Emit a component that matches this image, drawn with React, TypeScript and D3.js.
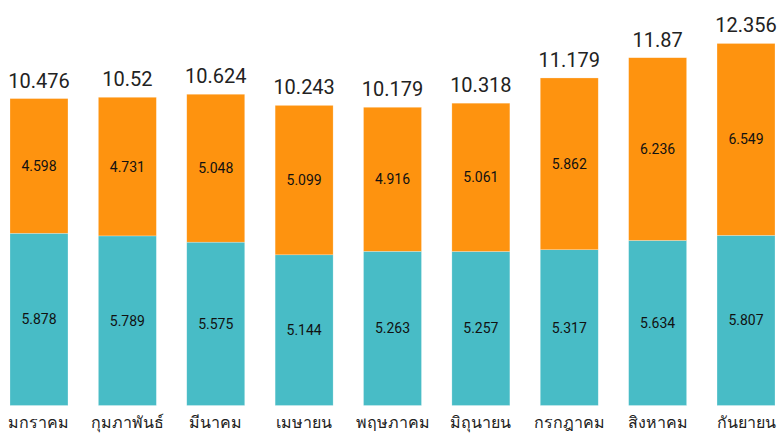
import React from "react";
import * as d3 from "d3";

const categories = ["มกราคม", "กุมภาพันธ์", "มีนาคม", "เมษายน", "พฤษภาคม", "มิถุนายน", "กรกฎาคม", "สิงหาคม", "กันยายน"];
const seriesTeal = [5.878, 5.789, 5.575, 5.144, 5.263, 5.257, 5.317, 5.634, 5.807];
const seriesOrange = [4.598, 4.731, 5.048, 5.099, 4.916, 5.061, 5.862, 6.236, 6.549];
const totals = [10.476, 10.52, 10.624, 10.243, 10.179, 10.318, 11.179, 11.87, 12.356];

const W = 777;
const H = 433;
const TEAL = "#48bcc6";
const ORANGE = "#fe930f";
const FONT = "Roboto, 'Noto Sans', 'DejaVu Sans', sans-serif";

export default function App() {
  const x = d3.scaleBand<string>().domain(categories).range([10, 775]).paddingInner(0.344).paddingOuter(0);
  const y = d3.scaleLinear().domain([0, 13.84]).range([405.5, 0]);
  const bw = x.bandwidth();
  return (
    <svg width={W} height={H} style={{ position: "absolute", left: 0, top: 0, display: "block" }} fontFamily={FONT}>
      <rect width={W} height={H} fill="#fff" />
      {categories.map((c, i) => {
        const x0 = x(c) as number;
        const t = seriesTeal[i];
        const o = seriesOrange[i];
        const yT = y(t);
        const yO = y(t + o);
        const cx = x0 + bw / 2;
        return (
          <g key={c}>
            <rect x={x0} y={yT} width={bw} height={y(0) - yT} fill={TEAL} stroke="#fff" strokeOpacity={0.4} strokeWidth={0.6} />
            <rect x={x0} y={yO} width={bw} height={yT - yO} fill={ORANGE} stroke="#fff" strokeOpacity={0.4} strokeWidth={0.6} />
            <text x={cx} y={(yT + y(0)) / 2} textAnchor="middle" dominantBaseline="central" fontSize={14} fill="#111">{t}</text>
            <text x={cx} y={(yO + yT) / 2} textAnchor="middle" dominantBaseline="central" fontSize={14} fill="#111">{o}</text>
            <text x={cx} y={yO - 11} textAnchor="middle" fontSize={20} fill="#222">{totals[i]}</text>
            <text x={cx} y={428} textAnchor="middle" fontSize={16} fill="#222">{c}</text>
          </g>
        );
      })}
    </svg>
  );
}
